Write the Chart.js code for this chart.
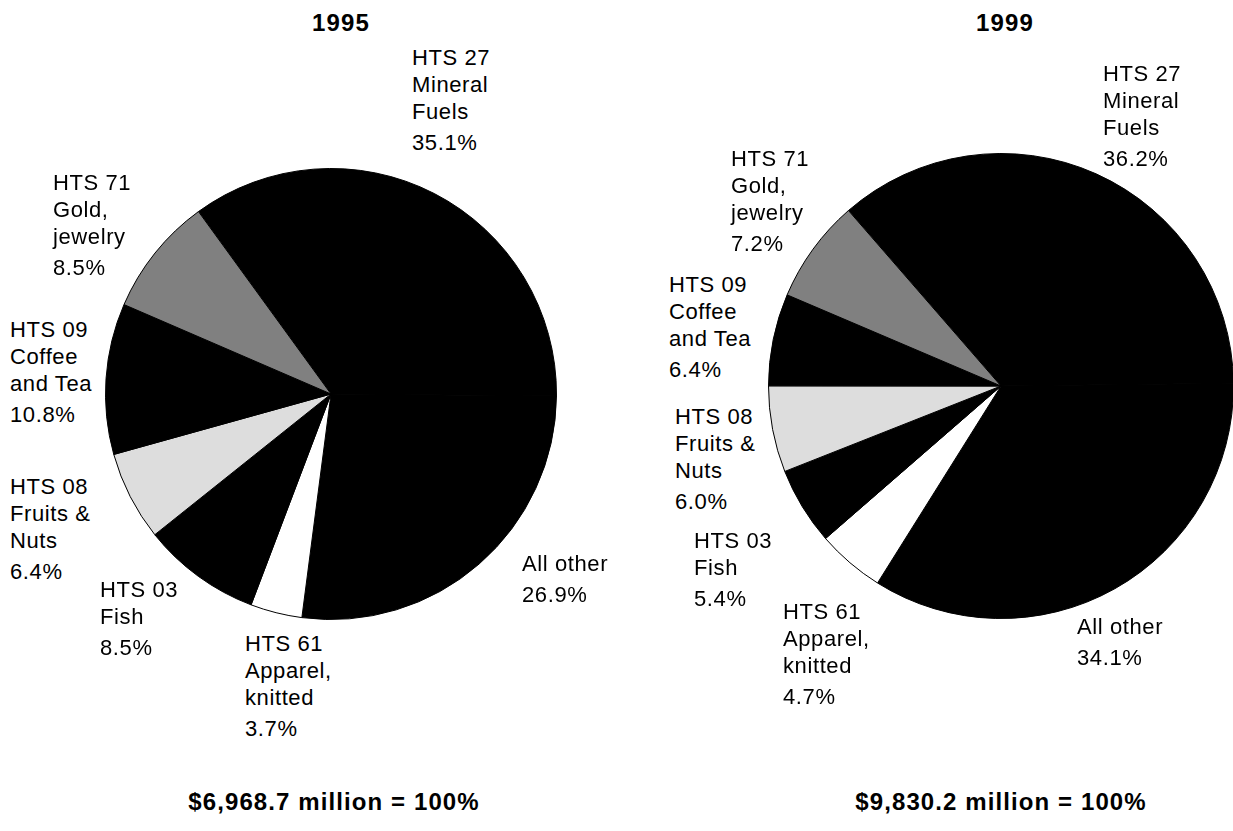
<!DOCTYPE html>
<html lang="en">
<head>
<meta charset="UTF-8">
<title>Exports by HTS chapter, 1995 and 1999</title>
<script src="https://cdn.jsdelivr.net/npm/chart.js"></script>
<style>
    body {
        margin: 0;
        background: #fff;
        font-family: 'Liberation Sans', Arial, Helvetica, sans-serif;
        overflow: hidden;
    }
    .page {
        position: relative;
        width: 1233px;
        height: 831px;
    }
    .page canvas {
        position: absolute;
    }
    .lbl {
        position: absolute;
        font-size: 22px;
        line-height: 27px;
        letter-spacing: 0.6px;
        color: #000;
        white-space: nowrap;
    }
    .lbl .pct {
        margin-top: 4px;
    }
    .head {
        position: absolute;
        width: 400px;
        text-align: center;
        font-weight: bold;
        font-size: 24px;
        line-height: 24px;
        letter-spacing: 1.1px;
        color: #000;
        white-space: nowrap;
    }
</style>
</head>
<body>
<div class="page" id="page">
    <canvas id="pie1995" width="452" height="452" style="left:105px; top:168px;"></canvas>
    <canvas id="pie1999" width="466" height="466" style="left:768px; top:153px;"></canvas>
</div>

<script>
// data
const years = ['1995', '1999'];
const totals = [6968.7, 9830.2];   // $ million
const categories = [
    ['HTS 27', 'Mineral', 'Fuels'],
    ['All other'],
    ['HTS 61', 'Apparel,', 'knitted'],
    ['HTS 03', 'Fish'],
    ['HTS 08', 'Fruits &', 'Nuts'],
    ['HTS 09', 'Coffee', 'and Tea'],
    ['HTS 71', 'Gold,', 'jewelry']
];
const share1995 = [35.1, 26.9, 3.7, 8.5, 6.4, 10.8, 8.5];
const share1999 = [36.2, 34.1, 4.7, 5.4, 6.0, 6.4, 7.2];

// styling / layout
const sliceColors = ['#000000', '#000000', '#ffffff', '#000000', '#dddddd', '#000000', '#808080'];
const labelPos1995 = [[412, 44], [522, 550], [245, 630], [100, 576], [10, 473], [10, 316], [53, 169]];
const labelPos1999 = [[1103, 60], [1077, 613], [783, 598], [694, 527], [675, 403], [669, 271], [731, 145]];

const page = document.getElementById('page');

function makePie(canvasId, values, rotation) {
    new Chart(document.getElementById(canvasId), {
        type: 'pie',
        data: {
            labels: categories.map(c => c.join(' ')),
            datasets: [{
                data: values,
                backgroundColor: sliceColors,
                borderColor: '#000000',
                borderWidth: 1
            }]
        },
        options: {
            responsive: false,
            animation: false,
            devicePixelRatio: 1,
            rotation: rotation,
            layout: { padding: 0 },
            plugins: {
                legend: { display: false },
                tooltip: { enabled: false }
            }
        }
    });
}

function addLabels(values, positions) {
    values.forEach((v, i) => {
        const div = document.createElement('div');
        div.className = 'lbl';
        div.style.left = positions[i][0] + 'px';
        div.style.top = positions[i][1] + 'px';
        categories[i].forEach(line => {
            const d = document.createElement('div');
            d.textContent = line;
            div.appendChild(d);
        });
        const p = document.createElement('div');
        p.className = 'pct';
        p.textContent = v.toFixed(1) + '%';
        div.appendChild(p);
        page.appendChild(div);
    });
}

function addHeading(text, cx, cy) {
    const div = document.createElement('div');
    div.className = 'head';
    div.textContent = text;
    div.style.left = (cx - 200) + 'px';
    div.style.top = (cy - 12) + 'px';
    page.appendChild(div);
}

function fmtTotal(t) {
    return '$' + t.toLocaleString('en-US', { minimumFractionDigits: 1, maximumFractionDigits: 1 }) + ' million = 100%';
}

makePie('pie1995', share1995, -36);
makePie('pie1999', share1999, -41);

addLabels(share1995, labelPos1995);
addLabels(share1999, labelPos1999);

addHeading(years[0], 341, 23);
addHeading(years[1], 1005, 23);
addHeading(fmtTotal(totals[0]), 334, 802);
addHeading(fmtTotal(totals[1]), 1001, 802);
</script>
</body>
</html>
